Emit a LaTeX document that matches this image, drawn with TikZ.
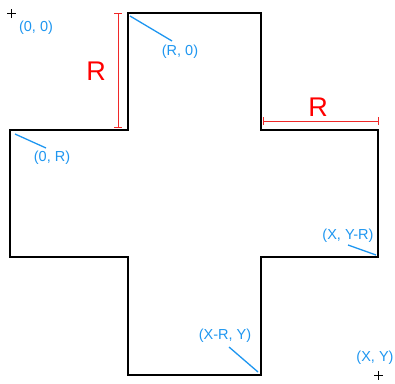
\documentclass[tikz,border=0pt]{standalone}
\usepackage{fontspec}
\setmainfont{Liberation Sans}
\definecolor{lblue}{RGB}{30,150,240}
\definecolor{dimred}{RGB}{240,40,40}
\begin{document}
\begin{tikzpicture}[x=1pt,y=-1pt,
  outline/.style={line width=1.8pt,black,line join=miter},
  dimline/.style={dimred,line width=0.9pt,|-|},
  dimlabel/.style={text=red,font=\fontsize{27}{27}\selectfont,inner sep=0pt},
  ptlabel/.style={text=lblue,font=\fontsize{14.5}{14.5}\selectfont,inner sep=0pt},
  pointer/.style={lblue,line width=1.3pt},
  plusmark/.style={black,line width=1pt}]
\useasboundingbox (0,0) rectangle (395,383);
% cross outline
\draw[outline] (128,13) -- (261,13) -- (261,130) -- (378,130) -- (378,257) -- (261,257)
  -- (261,375) -- (128,375) -- (128,257) -- (10,257) -- (10,130) -- (128,130) -- cycle;
% dimensions
\coordinate (v1) at (118,13);
\coordinate (v2) at (118,128);
\draw[dimline] (v1) -- (v2);
\node[dimlabel] (rv) at (96,71) {R};
\coordinate (h1) at (263,121);
\coordinate (h2) at (379,121);
\draw[dimline] (h1) -- (h2);
\node[dimlabel] (rh) at (318,107) {R};
% point labels
\node[ptlabel] (p00) at (36,28) {(0, 0)};
\node[ptlabel] (pr0) at (180,52) {(R, 0)};
\coordinate (ar0a) at (130,16);
\coordinate (ar0b) at (172,41);
\draw[pointer] (ar0a) -- (ar0b);
\node[ptlabel] (p0r) at (52,158) {(0, R)};
\coordinate (a0ra) at (15,134);
\coordinate (a0rb) at (46,148);
\draw[pointer] (a0ra) -- (a0rb);
\node[ptlabel] (pxyr) at (348,236) {(X, Y-R)};
\coordinate (axyra) at (348,245);
\coordinate (axyrb) at (376,255);
\draw[pointer] (axyra) -- (axyrb);
\node[ptlabel] (pxry) at (225,336) {(X-R, Y)};
\coordinate (axrya) at (229,347);
\coordinate (axryb) at (258,372);
\draw[pointer] (axrya) -- (axryb);
\node[ptlabel] (pxy) at (375,358) {(X, Y)};
% plus marks
\coordinate (o) at (11.5,13);
\coordinate (e) at (378.5,375);
\draw[plusmark] ([xshift=-4.5pt]o) -- ([xshift=4.5pt]o) ([yshift=-4.5pt]o) -- ([yshift=4.5pt]o);
\draw[plusmark] ([xshift=-4.5pt]e) -- ([xshift=4.5pt]e) ([yshift=-4.5pt]e) -- ([yshift=4.5pt]e);
\end{tikzpicture}
\end{document}
